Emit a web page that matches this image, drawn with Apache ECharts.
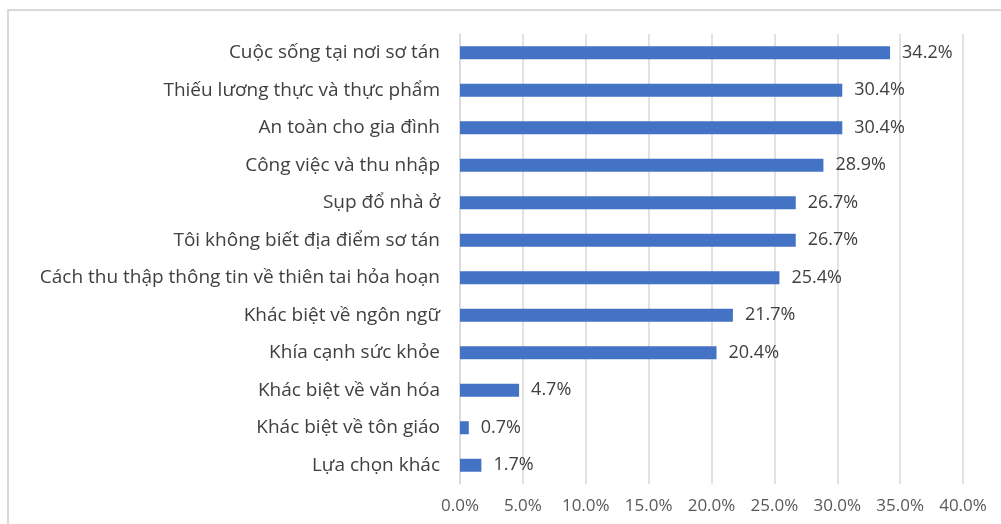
<!DOCTYPE html>
<html>
<head>
<meta charset="utf-8">
<script src="https://cdn.jsdelivr.net/npm/echarts@6/dist/echarts.min.js"></script>
<style>
  html, body { margin: 0; padding: 0; background: #fff; }
  #chart { width: 1001px; height: 524px; }
</style>
</head>
<body>
<div id="chart"></div>
<script>
// Categories listed top to bottom
const categories = [
  'Cuộc sống tại nơi sơ tán',
  'Thiếu lương thực và thực phẩm',
  'An toàn cho gia đình',
  'Công việc và thu nhập',
  'Sụp đổ nhà ở',
  'Tôi không biết địa điểm sơ tán',
  'Cách thu thập thông tin về thiên tai hỏa hoạn',
  'Khác biệt về ngôn ngữ',
  'Khía cạnh sức khỏe',
  'Khác biệt về văn hóa',
  'Khác biệt về tôn giáo',
  'Lựa chọn khác'
];
// Share of respondents, percent
const values = [34.2, 30.4, 30.4, 28.9, 26.7, 26.7, 25.4, 21.7, 20.4, 4.7, 0.7, 1.7];

const FONT = '"Open Sans", "Noto Sans", sans-serif';
const chart = echarts.init(document.getElementById('chart'));
chart.setOption({
  animation: false,
  graphic: [{
    type: 'rect',
    shape: { x: 8, y: 10, width: 1200, height: 700 },
    style: { fill: 'none', stroke: '#d9d9d9', lineWidth: 2 }
  }],
  grid: { left: 460, right: 38, top: 34, bottom: 40, containLabel: false },
  xAxis: {
    type: 'value', min: 0, max: 40, interval: 5,
    axisLine: { show: false }, axisTick: { show: false },
    splitLine: { lineStyle: { color: '#d9d9d9', width: 1.5 } },
    axisLabel: { formatter: v => v.toFixed(1) + '%', color: '#595959', fontSize: 17, fontFamily: FONT, margin: 14 }
  },
  yAxis: {
    type: 'category', data: categories, inverse: true,
    axisLine: { show: true, lineStyle: { color: '#d9d9d9', width: 1.5 } },
    axisTick: { show: false },
    axisLabel: { color: '#404040', fontSize: 19, fontFamily: FONT, margin: 20, padding: [3, 0, 0, 0] }
  },
  series: [{
    type: 'bar', data: values, barWidth: 13,
    itemStyle: { color: '#4472C4' },
    label: { show: true, position: 'right', distance: 12, formatter: p => p.value.toFixed(1) + '%', color: '#404040', fontSize: 18, fontFamily: FONT }
  }]
});
</script>
</body>
</html>
